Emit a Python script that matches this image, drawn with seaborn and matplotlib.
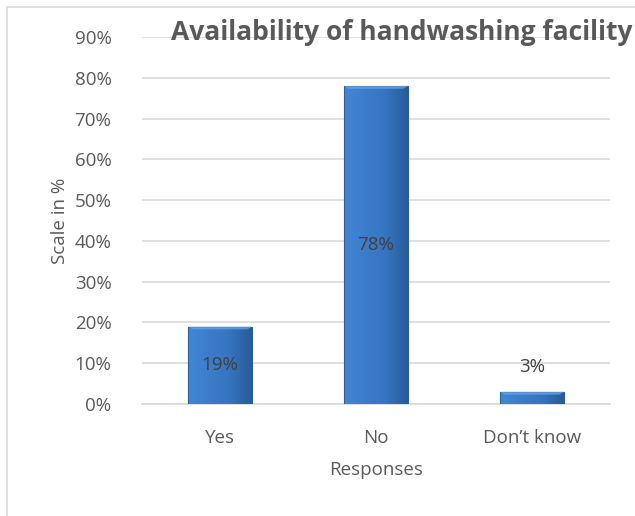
import numpy as np
import pandas as pd
import matplotlib
matplotlib.use("Agg")
import matplotlib.pyplot as plt
import seaborn as sns
from matplotlib.patches import Rectangle, Polygon
from matplotlib.colors import LinearSegmentedColormap

categories = ["Yes", "No", "Don\u2019t know"]
values = [19, 78, 3]
labels = ["19%", "78%", "3%"]
yticks = [0, 10, 20, 30, 40, 50, 60, 70, 80, 90]

sns.set_theme(style="white")
plt.rcParams['font.family'] = ['Open Sans', 'DejaVu Sans']

df = pd.DataFrame({"Responses": categories, "Value": values})

fig = plt.figure(figsize=(6.35, 5.16), dpi=100)
ax = fig.add_axes([142/635, 1-404/516, 468/635, (404-37)/516])

sns.barplot(data=df, x="Responses", y="Value", color="#3a78c3", width=0.41,
            ax=ax, zorder=3, edgecolor="none")

grad = np.linspace(0, 1, 256).reshape(1, -1)
cmap = LinearSegmentedColormap.from_list("g", ["#4188d4", "#3c7dca", "#3574c0", "#285a98"])
for p in ax.patches:
    x0, y0 = p.get_x(), p.get_y()
    w, h = p.get_width(), p.get_height()
    im = ax.imshow(grad, extent=[x0, x0 + w, y0, y0 + h], aspect="auto",
                   cmap=cmap, zorder=4)
    im.set_clip_path(p)
    ax.add_patch(Rectangle((x0, y0), w, h, fill=False, edgecolor="#2e5f99",
                           linewidth=0.8, zorder=5))
    bh = min(0.7, h * 0.3)
    inset = 0.03
    ax.add_patch(Polygon([(x0, y0 + h), (x0 + w, y0 + h),
                          (x0 + w - inset, y0 + h - bh), (x0 + inset, y0 + h - bh)],
                         closed=True, facecolor="#6fa9e6", edgecolor="none",
                         alpha=0.7, zorder=5))

ax.set_xlim(-0.5, 2.5)
ax.set_ylim(0, 90)
ax.set_yticks(yticks)
ax.set_yticklabels([f"{t}%" for t in yticks])
ax.yaxis.grid(True, color="#d9d9d9", linewidth=1.2, zorder=0)
ax.set_axisbelow(True)
for s in ["top", "right", "left"]:
    ax.spines[s].set_visible(False)
ax.spines["bottom"].set_color("#d9d9d9")
ax.spines["bottom"].set_linewidth(1.2)
ax.tick_params(axis="both", length=0, labelsize=13.5, colors="#595959")
ax.tick_params(axis="y", pad=22)
ax.tick_params(axis="x", pad=18)

label_y = [9.5, 39, 9]
for i, (ly, lab) in enumerate(zip(label_y, labels)):
    ax.text(i, ly, lab, ha="center", va="center", fontsize=13.5,
            color="#404040", zorder=6)

ax.set_xlabel("Responses", fontsize=13.5, color="#595959", labelpad=10)
ax.set_ylabel("Scale in %", fontsize=13.5, color="#595959", labelpad=4)

ax.set_title("Availability of handwashing facility", fontsize=19,
             fontweight="bold", color="#595959", x=0.555, y=0.99, va="center",
             zorder=10)

fig.add_artist(Rectangle((7/635, -0.05), 1.0, 1-7/516+0.05,
                         transform=fig.transFigure, fill=False,
                         edgecolor="#d9d9d9", linewidth=1.2))

fig.savefig("out.png", dpi=100)
